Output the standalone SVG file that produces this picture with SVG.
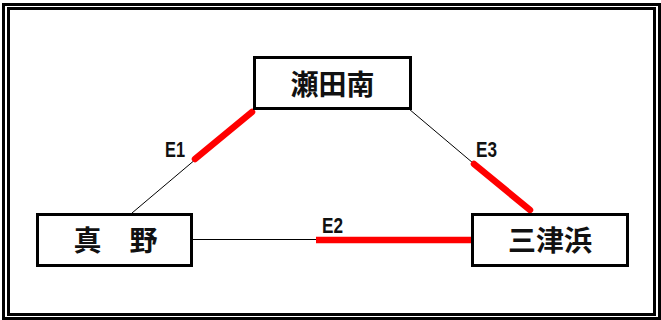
<svg xmlns="http://www.w3.org/2000/svg" width="661" height="320" viewBox="0 0 661 320">
<style>
.frame{fill:none;stroke:#000;stroke-width:3}
.box{fill:#fff;stroke:#000;stroke-width:3}
.name{font-family:"Noto Sans CJK JP","Noto Sans CJK SC",sans-serif;font-size:28px;font-weight:bold;fill:#111;text-anchor:middle}
.thin{stroke:#000;stroke-width:1;fill:none}
.red{stroke:#ff0000;stroke-width:6.5;stroke-linecap:round;fill:none}
.red2{stroke:#ff0000;stroke-width:6.5;stroke-linecap:butt;fill:none}
.lbl{font-family:"Liberation Sans",Arial,sans-serif;font-size:22px;font-weight:bold;fill:#111}
</style>
<rect width="661" height="320" fill="#fff"/>
<rect class="frame" x="3.5" y="4.5" width="656" height="314"/>
<rect class="frame" x="8.5" y="8.5" width="646" height="306"/>
<g id="connectors">
<line class="thin" x1="132" y1="213" x2="254" y2="110"/>
<line class="red" x1="195" y1="159" x2="252" y2="112"/>
<line class="thin" x1="409" y1="109" x2="531" y2="212"/>
<line class="red" x1="474" y1="164" x2="530" y2="210"/>
<line class="thin" x1="193" y1="239.5" x2="471" y2="239.5"/>
<line class="red2" x1="316" y1="240" x2="471" y2="240"/>
<text class="lbl" x="165" y="157" textLength="20" lengthAdjust="spacingAndGlyphs">E1</text>
<text class="lbl" x="322" y="233" textLength="21" lengthAdjust="spacingAndGlyphs">E2</text>
<text class="lbl" x="476" y="156.5" textLength="21" lengthAdjust="spacingAndGlyphs">E3</text>
</g>
<g id="node-setaminami">
<rect class="box" x="254.5" y="57.5" width="156" height="51"/>
<text class="name" x="332.5" y="94.5">瀬田南</text>
</g>
<g id="node-mano">
<rect class="box" x="37.5" y="214.5" width="154" height="51"/>
<text class="name" x="115.5" y="250.5">真　野</text>
</g>
<g id="node-mitsuhama">
<rect class="box" x="472.5" y="214.5" width="155" height="51"/>
<text class="name" x="550" y="250.5">三津浜</text>
</g>
</svg>
